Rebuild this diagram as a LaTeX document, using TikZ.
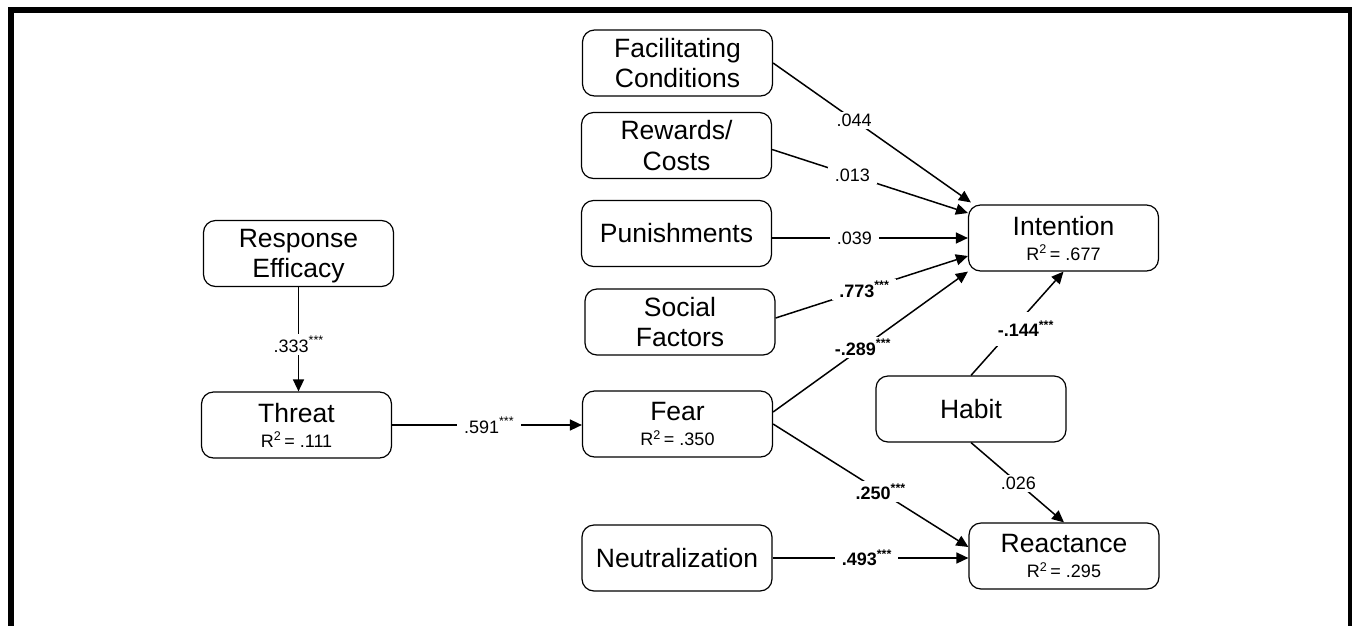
\documentclass[tikz,border=0pt]{standalone}
\usepackage{fontspec}
\setmainfont{Liberation Sans}
\usetikzlibrary{arrows.meta,calc}
\newcommand\Rsqline[1]{{\fontsize{18}{20}\selectfont R\textsuperscript{2}\,= #1}}
\newcommand\sigstars{\raisebox{0.42em}{\fontsize{12.5}{12.5}\selectfont ***}}
\begin{document}
\begin{tikzpicture}[x=1pt,y=-1pt,
 box/.style={draw,line width=1.2pt,rounded corners=12pt,minimum width=190pt,minimum height=66pt,align=center,inner sep=0pt,font=\fontsize{26.5}{30.5}\selectfont},
 rbox/.style={box,font=\fontsize{26.5}{25}\selectfont},
 conn/.style={line width=1.5pt,-{Triangle[length=12pt,width=11pt]}},
 lab/.style={fill=white,inner xsep=7pt,inner ysep=2pt,font=\fontsize{18}{20}\selectfont},
 blab/.style={lab,font=\fontsize{18}{20}\selectfont\bfseries},
]
\useasboundingbox (0,0) rectangle (1353,625);
% frame
\draw[line width=6pt] (11,630) -- (11,10) -- (1351,10);
\draw[line width=4pt] (1349.5,7) -- (1349.5,630);
% nodes
\node[box] (fac) at (677.5,63) {Facilitating\\Conditions};
\node[box] (rew) at (676.5,145.5) {Rewards/\\Costs};
\node[box] (pun) at (676.5,233.5) {Punishments};
\node[box] (soc) at (680,322) {Social\\Factors};
\node[rbox] (fear) at (677.5,424) {Fear\\\Rsqline{.350}};
\node[box] (neu) at (677,558) {Neutralization};
\node[box,text depth=0pt] (re) at (298.5,253.5) {Response\\Efficacy};
\node[rbox] (th) at (296.5,425) {Threat\\\Rsqline{.111}};
\node[rbox] (int) at (1063.5,238) {Intention\\\Rsqline{.677}};
\node[box] (hab) at (971,409) {Habit};
\node[rbox] (rea) at (1064,556) {Reactance\\\Rsqline{.295}};
% connectors
\draw[conn] (re.south) -- node[lab,pos=0.55]{.333\sigstars} (re.south |- th.north);
\draw[conn] (th.east) -- node[lab,pos=0.51]{.591\sigstars} (th.east -| fear.west);
\draw[conn] (fac.east) -- node[lab,pos=0.41]{.044} ($(int.north west)+(3,-2)$);
\draw[conn] ($(rew.east)+(0,4)$) -- node[lab,pos=0.41]{.013} ($(int.west)+(0,-25)$);
\draw[conn] (pun.east |- int.west) -- node[lab,pos=0.42]{.039} (int.west);
\draw[conn] ($(soc.east)+(0,-4)$) -- node[blab,pos=0.46]{.773\sigstars} ($(int.west)+(0,18)$);
\draw[conn] ($(fear.east)+(0,-12)$) -- node[blab,pos=0.46]{-.289\sigstars} (int.south west);
\draw[conn] (fear.east) -- node[blab,pos=0.55]{.250\sigstars} ($(rea.west)+(0,-9)$);
\draw[conn] (hab.north) -- node[blab,pos=0.45,xshift=13pt,inner ysep=9pt]{-.144\sigstars} (int.south);
\draw[conn] (hab.south) -- node[lab,pos=0.51]{.026} (rea.north);
\draw[conn] (neu.east) -- node[blab,pos=0.48]{.493\sigstars} (neu.east -| rea.west);
\end{tikzpicture}
\end{document}
